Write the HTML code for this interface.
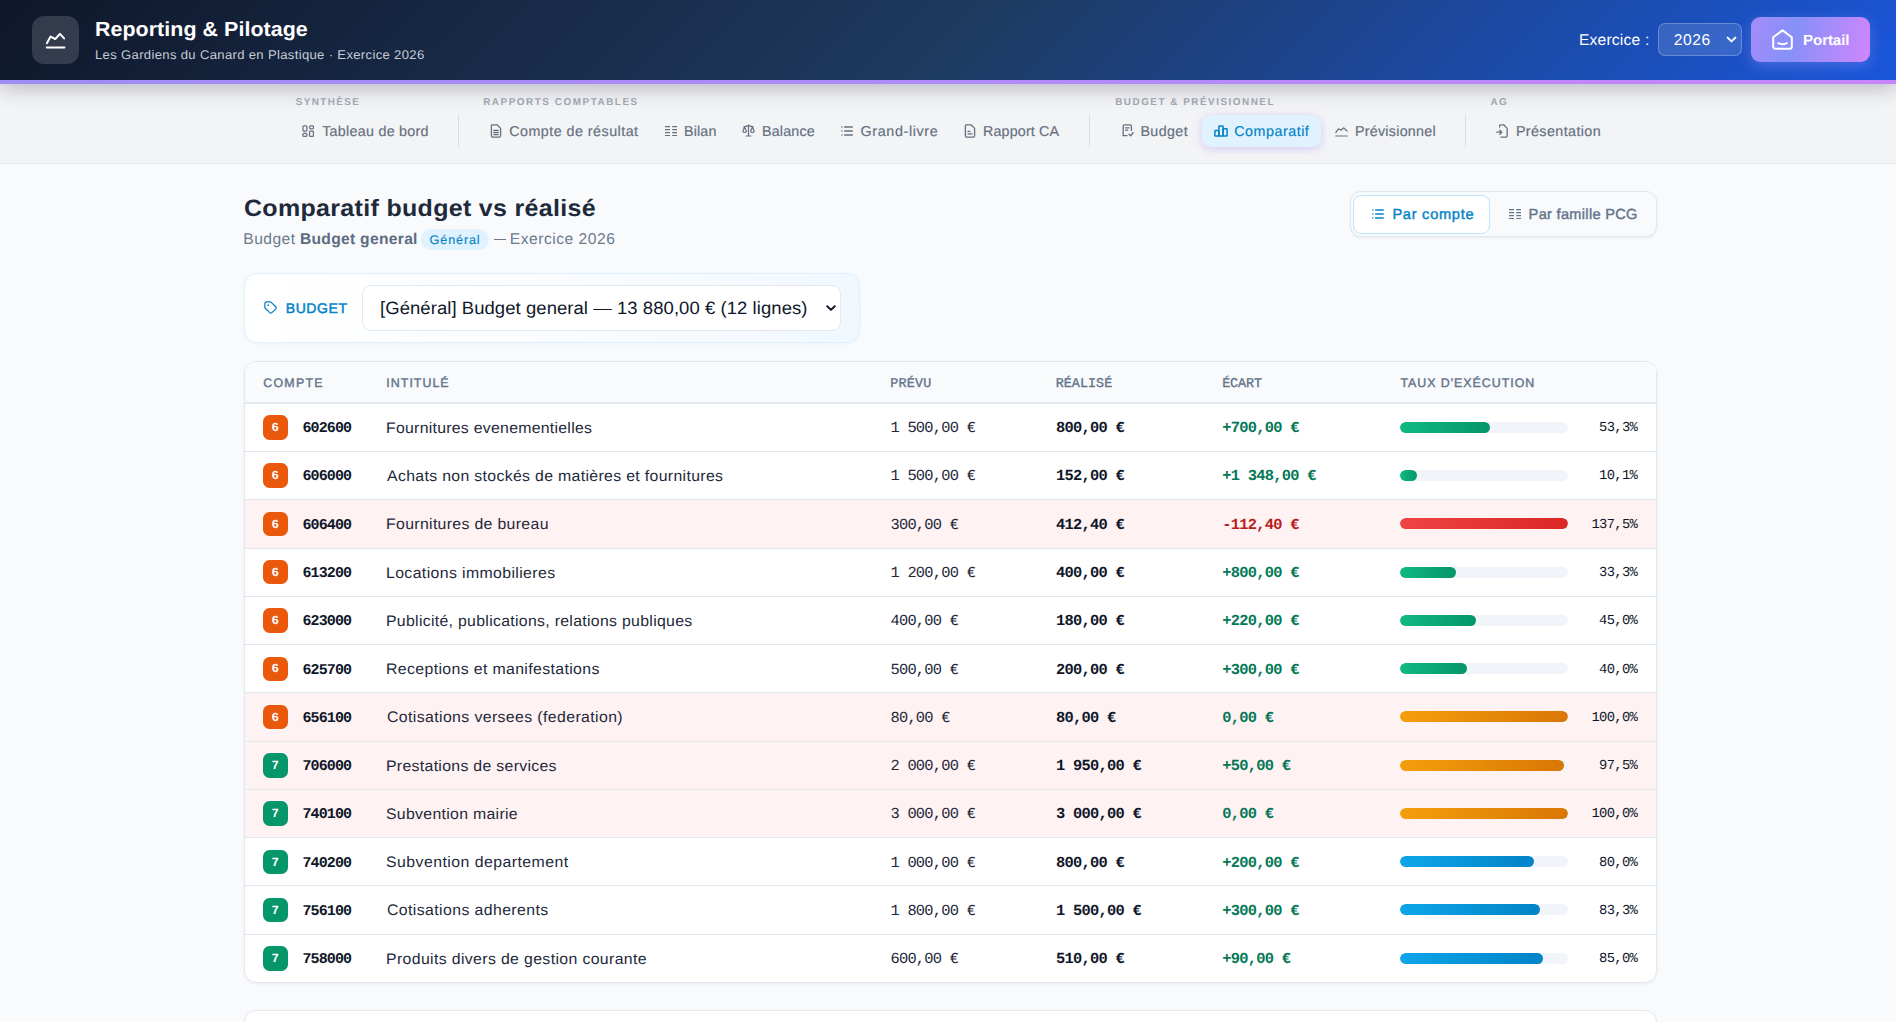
<!DOCTYPE html>
<html lang="fr">
<head>
<meta charset="utf-8">
<title>Reporting &amp; Pilotage</title>
<style>
*{box-sizing:border-box;margin:0;padding:0}
html,body{width:1896px;height:1022px;overflow:hidden}
body{font-family:"Liberation Sans",sans-serif;background:#f8fafc;color:#1e293b;position:relative;text-rendering:geometricPrecision}
.tx{position:absolute;white-space:nowrap}
i{font-style:normal}
svg{position:absolute;display:block}
/* header */
.hdr{position:absolute;left:0;top:0;width:1896px;height:84px;background:linear-gradient(90deg,#9f8cf6 0%,#b08af9 50%,#c686fb 100%);box-shadow:0 4px 20px rgba(15,23,42,.28);z-index:5}
.hdr .bg{position:absolute;left:0;top:0;width:1896px;height:80px;background:linear-gradient(135deg,#0f172a 0%,#1e3a5f 50%,#1a56db 100%)}
.logo{position:absolute;left:32px;top:16px;width:47px;height:48px;border-radius:12px;background:rgba(255,255,255,.15)}
.ttl{font-size:20.4px;font-weight:700;color:#fff;line-height:26px;transform:scaleX(1.05);transform-origin:0 0}
.sub{font-size:12.6px;color:#c5ccd8;line-height:18px;transform:scaleX(1.04);transform-origin:0 0}
.exl{font-size:15.6px;color:#fff;line-height:22px}
.exs{position:absolute;left:1658px;top:23px;width:84px;height:33px;border-radius:7px;background:rgba(255,255,255,.13);border:1px solid rgba(255,255,255,.24)}
.portail{position:absolute;left:1751px;top:17px;width:119px;height:45px;border-radius:9px;background:linear-gradient(105deg,#a58cf9 0%,#8690f8 36%,#ae8bfb 70%,#d085fc 100%);box-shadow:0 4px 14px rgba(129,140,248,.45)}
.pt{font-size:14.6px;font-weight:700;color:#fff;line-height:22px;transform:scaleX(1.04);transform-origin:0 0}
/* nav */
.nav{position:absolute;left:0;top:84px;width:1896px;height:80px;background:#f3f4f6;border-bottom:1px solid #e5e7eb}
.gl{font-size:9.9px;font-weight:700;color:#a3a9b4;line-height:12px}
.ni{font-size:14.3px;color:#66707f;line-height:20px;-webkit-text-stroke:.18px currentColor}
.nico{position:absolute;color:#66707f}
.act{position:absolute;left:1202px;top:115px;width:119px;height:32px;background:#e0f2fe;border-radius:9px;box-shadow:0 2px 10px rgba(139,92,246,.28)}
.sep{position:absolute;top:115px;width:1px;height:32px;background:#d8dbe0}
/* page head */
.h1{font-size:23.6px;font-weight:700;color:#1e293b;line-height:32px;transform:scaleX(1.06);transform-origin:0 0}
.ps{font-size:15.6px;color:#6c7a8e;line-height:24px}
.pill{position:absolute;left:421px;top:229px;width:68px;height:21px;border-radius:11px;background:#e0f2fe}
.pl{font-size:12.6px;color:#0284c7;line-height:16px;-webkit-text-stroke:.15px currentColor}
.tog{position:absolute;left:1350px;top:191px;width:307px;height:46px;border:1px solid #e2e8f0;border-radius:11px;background:#f8fafc;box-shadow:0 1px 3px rgba(15,23,42,.07)}
.toga{position:absolute;left:1353px;top:194.6px;width:137px;height:39.4px;background:#fff;border:1px solid #bae6fd;border-radius:8px}
.tg{font-size:14.6px;font-weight:400;line-height:20px;-webkit-text-stroke:.42px currentColor}
/* budget select */
.bsel{position:absolute;left:244px;top:273px;width:616px;height:70px;border:1px solid #dff1fd;border-radius:13px;background:linear-gradient(100deg,#ffffff 0%,#fbfdff 45%,#f0f8ff 100%);box-shadow:0 1px 3px rgba(14,165,233,.06)}
.lab{font-size:14px;font-weight:400;color:#0284c7;line-height:18px;-webkit-text-stroke:.5px currentColor}
.sel{position:absolute;left:362px;top:285px;width:479px;height:46px;border:1px solid #e2e8f0;border-radius:9px;background:#fff}
.selt{font-size:17.8px;color:#0f172a;line-height:24px;transform:scaleX(1.04);transform-origin:0 0}
/* table */
.tbl{position:absolute;left:244px;top:361px;width:1413px;height:622px;border:1px solid #e2e8f0;border-radius:12px;background:#fff;overflow:hidden}
.tblsh{position:absolute;left:244px;top:361px;width:1413px;height:622px;border-radius:12px;box-shadow:0 1px 3px rgba(15,23,42,.06)}
.th{position:absolute;left:0;top:0;width:100%;height:42px;background:#f8fafc;border-bottom:2px solid #e2e8f0}
.hs{font-size:12.4px;font-weight:400;color:#64748b;line-height:14px;-webkit-text-stroke:.4px currentColor}
.hm{font-family:"Liberation Mono",monospace;font-size:13.4px;font-weight:400;color:#64748b;line-height:14px;-webkit-text-stroke:.35px #64748b}
.r{position:absolute;left:1px;width:1411px;border-bottom:1px solid #e2e8f0}
.r.w{background:#fef2f2}
.bd{position:absolute;width:25px;height:25px;left:263px;border-radius:6.5px}
.o{background:#ea580c}.g{background:#059669}
.bdt{font-family:"Liberation Mono",monospace;font-weight:700;font-size:12.4px;line-height:14px;color:#fff}
.ac{font-family:"Liberation Mono",monospace;font-weight:700;font-size:15px;line-height:16px;color:#0f172a}
.lb{font-size:15.3px;line-height:20px;color:#1e293b;transform:scaleX(1.035);transform-origin:0 0}
.pv,.re,.ec{font-family:"Liberation Mono",monospace;font-size:15.4px;line-height:16px}
.pv{color:#1e293b}
.re{color:#0f172a;font-weight:700}
.ec{font-weight:700;color:#047857}
.ec.n{color:#b91c1c}
.bar{position:absolute;left:1400px;width:168px;height:11px;border-radius:6px;background:#f1f5f9;overflow:hidden}
.bar i{position:absolute;left:0;top:0;height:100%;border-radius:6px}
.fg{background:linear-gradient(90deg,#10b981,#059669)}
.fr{background:linear-gradient(90deg,#ef4444,#dc2626)}
.fo{background:linear-gradient(90deg,#f59e0b,#d97706)}
.fb{background:linear-gradient(90deg,#0ea5e9,#0284c7)}
.pc{font-family:"Liberation Mono",monospace;font-size:13.8px;line-height:16px;color:#0f172a}
.card2{position:absolute;left:244px;top:1010px;width:1413px;height:40px;border:1px solid #e2e8f0;border-radius:12px;background:#fff}
</style>
</head>
<body>
<div class="hdr"><div class="bg"></div><div class="logo"></div>
<svg style="left:45px;top:32px" width="22" height="18" viewBox="0 0 22 18" fill="none" stroke="#fff" stroke-width="2" stroke-linecap="round" stroke-linejoin="round"><path d="M1.9 11.2 L5.6 4.6 L10.3 7 L14.9 1.8 L19.1 6.4"/><path d="M1.7 15.6 H19.5"/></svg>
<div id="ttl" class="tx ttl" style="left:94.60px;top:17.1px;letter-spacing:0.050px;">Reporting &amp; Pilotage</div>
<div id="sub" class="tx sub" style="left:94.80px;top:46.4px;letter-spacing:0.310px;">Les Gardiens du Canard en Plastique · Exercice 2026</div>
<div id="exl" class="tx exl" style="left:1578.90px;top:30px;letter-spacing:0.223px;">Exercice :</div>
<div class="exs"></div>
<div id="yr" class="tx exl" style="left:1673.73px;top:30px;letter-spacing:0.595px;">2026</div>
<svg style="left:1725px;top:33px" width="13" height="13" viewBox="0 0 13 13" fill="none" stroke="#fff" stroke-width="2" stroke-linecap="round" stroke-linejoin="round"><path d="M2.6 4.6 L6.5 8.4 L10.4 4.6"/></svg>
<div class="portail"></div>
<svg style="left:1771px;top:28px" width="23" height="23" viewBox="0 0 23 23" fill="none" stroke="#fff" stroke-width="2" stroke-linecap="round" stroke-linejoin="round"><path d="M2.2 9.2 L11.5 2.4 L20.8 9.2 V18.6 a2.2 2.2 0 0 1 -2.2 2.2 H4.4 a2.2 2.2 0 0 1 -2.2 -2.2 Z"/><path d="M7.2 15.1 Q11.5 17.3 15.8 15.1"/></svg>
<div id="pt" class="tx pt" style="left:1803.10px;top:30.3px;letter-spacing:-0.120px;">Portail</div>
</div>
<div class="nav"></div>
<div id="g0" class="tx gl" style="left:295.67px;top:96.8px;letter-spacing:1.425px;">SYNTHÈSE</div>
<div id="g1" class="tx gl" style="left:483.18px;top:96.8px;letter-spacing:1.556px;">RAPPORTS COMPTABLES</div>
<div id="g2" class="tx gl" style="left:1115.18px;top:96.8px;letter-spacing:1.524px;">BUDGET &amp; PRÉVISIONNEL</div>
<div id="g3" class="tx gl" style="left:1490.50px;top:96.8px;letter-spacing:1.300px;">AG</div>
<div class="sep" style="left:458px"></div>
<div class="sep" style="left:1089px"></div>
<div class="sep" style="left:1465px"></div>
<div class="act"></div>
<i class="nico" style="color:#66707f"><svg style="left:301.6px;top:124.5px" width="12.4" height="12.2" viewBox="0 0 13 13" fill="none" stroke="currentColor" stroke-width="1.3" stroke-linejoin="round"><rect x=".9" y=".9" width="4.2" height="5.6" rx="1"/><rect x="7.9" y=".9" width="4.2" height="3.2" rx="1.2"/><rect x=".9" y="9" width="4.2" height="3.1" rx="1"/><rect x="7.9" y="6.5" width="4.2" height="5.6" rx="1"/></svg></i>
<div id="n0" class="tx ni" style="left:322.18px;top:122px;letter-spacing:0.275px;color:#66707f">Tableau de bord</div>
<i class="nico" style="color:#66707f"><svg style="left:489.8px;top:124px" width="12" height="14" viewBox="0 0 12 14" fill="none" stroke="currentColor" stroke-width="1.3" stroke-linecap="round" stroke-linejoin="round"><path d="M2.2 .8 H7 L10.6 4.4 V11.8 a1.4 1.4 0 0 1 -1.4 1.4 H2.8 a1.4 1.4 0 0 1 -1.4 -1.4 V1.6 a.8 .8 0 0 1 .8 -.8 Z"/><path d="M3.8 6.4 H8.2 M3.8 8.5 H8.2 M3.8 10.6 H8.2"/></svg></i>
<div id="n1" class="tx ni" style="left:509.16px;top:122px;letter-spacing:0.479px;color:#66707f">Compte de résultat</div>
<i class="nico" style="color:#66707f"><svg style="left:664.9px;top:125.7px" width="12.2" height="10.2" viewBox="0 0 12.2 10.2" fill="none" stroke="currentColor" stroke-width="1.15"><path d="M0 .7 H5 M7.2 .7 H12.2 M0 3.63 H5 M7.2 3.63 H12.2 M0 6.57 H5 M7.2 6.57 H12.2 M0 9.5 H5 M7.2 9.5 H12.2"/></svg></i>
<div id="n2" class="tx ni" style="left:683.95px;top:122px;letter-spacing:0.178px;color:#66707f">Bilan</div>
<i class="nico" style="color:#66707f"><svg style="left:742.2px;top:124px" width="13" height="13" viewBox="0 0 13 13" fill="none" stroke="currentColor" stroke-width="1.2" stroke-linecap="round" stroke-linejoin="round"><path d="M6.5 .8 V11.6 M4.2 12 H8.8 M1.8 2.8 L6.5 1.6 L11.2 2.8"/><path d="M2.6 3 L.8 7.2 a1.9 1.9 0 0 0 3.6 0 Z M10.4 3 L8.6 7.2 a1.9 1.9 0 0 0 3.6 0 Z"/></svg></i>
<div id="n3" class="tx ni" style="left:762.03px;top:122px;letter-spacing:0.162px;color:#66707f">Balance</div>
<i class="nico" style="color:#66707f"><svg style="left:841px;top:126px" width="12" height="10" viewBox="0 0 12 10" fill="none" stroke="currentColor" stroke-width="1.3" stroke-linecap="round"><path d="M3.6 1 H11.3 M3.6 5 H11.3 M3.6 9 H11.3 M.8 1 H1 M.8 5 H1 M.8 9 H1"/></svg></i>
<div id="n4" class="tx ni" style="left:860.53px;top:122px;letter-spacing:0.648px;color:#66707f">Grand-livre</div>
<i class="nico" style="color:#66707f"><svg style="left:963.6px;top:124px" width="12" height="14" viewBox="0 0 12 14" fill="none" stroke="currentColor" stroke-width="1.3" stroke-linecap="round" stroke-linejoin="round"><path d="M2.2 .8 H7 L10.6 4.4 V11.8 a1.4 1.4 0 0 1 -1.4 1.4 H2.8 a1.4 1.4 0 0 1 -1.4 -1.4 V1.6 a.8 .8 0 0 1 .8 -.8 Z"/><path d="M4 7.4 H6 M4 9.8 H8"/></svg></i>
<div id="n5" class="tx ni" style="left:982.92px;top:122px;letter-spacing:0.170px;color:#66707f">Rapport CA</div>
<i class="nico" style="color:#66707f"><svg style="left:1122px;top:124.3px" width="12" height="13" viewBox="0 0 12 13" fill="none" stroke="currentColor" stroke-width="1.3" stroke-linecap="round" stroke-linejoin="round"><path d="M1.2 11.6 V2 a1.2 1.2 0 0 1 1.2 -1.2 H8.2 a1.2 1.2 0 0 1 1.2 1.2 V6.6"/><path d="M1.2 11.6 H5 M3.6 3.8 H7 M3.6 6.2 H5.6"/><path d="M7 10.2 L8.6 11.8 L11.2 8.8"/></svg></i>
<div id="n6" class="tx ni" style="left:1140.46px;top:122px;letter-spacing:0.380px;color:#66707f">Budget</div>
<i class="nico" style="color:#0284c7"><svg style="left:1214px;top:125px" width="14" height="12" viewBox="0 0 14 12" fill="none" stroke="currentColor" stroke-width="1.5" stroke-linejoin="round"><rect x=".9" y="5.6" width="4" height="5.5" rx=".6"/><rect x="4.9" y=".9" width="4.2" height="10.2" rx=".6"/><rect x="9.1" y="3.8" width="4" height="7.3" rx=".6"/></svg></i>
<div id="n7" class="tx ni" style="left:1234.28px;top:122px;letter-spacing:0.512px;color:#0284c7">Comparatif</div>
<i class="nico" style="color:#66707f"><svg style="left:1335.4px;top:126.6px" width="13" height="10" viewBox="0 0 13 10" fill="none" stroke="currentColor" stroke-width="1.2" stroke-linecap="round" stroke-linejoin="round"><path d="M.8 5.6 L3.4 1.8 L6 3.2 L8.8 .8 L12 4 M.8 9 H12.2"/></svg></i>
<div id="n8" class="tx ni" style="left:1354.93px;top:122px;letter-spacing:0.260px;color:#66707f">Prévisionnel</div>
<i class="nico" style="color:#66707f"><svg style="left:1496.2px;top:124px" width="12" height="14" viewBox="0 0 12 14" fill="none" stroke="currentColor" stroke-width="1.3" stroke-linecap="round" stroke-linejoin="round"><path d="M3.6 3 V2 a1.2 1.2 0 0 1 1.2 -1.2 H7.6 L11.2 4.4 V11.8 a1.4 1.4 0 0 1 -1.4 1.4 H5"/><path d="M.8 8.2 H5.6 M3.8 6.2 L5.8 8.2 L3.8 10.2"/></svg></i>
<div id="n9" class="tx ni" style="left:1515.90px;top:122px;letter-spacing:0.410px;color:#66707f">Présentation</div>
<div id="h1" class="tx h1" style="left:243.56px;top:192.7px;letter-spacing:0.294px;">Comparatif budget vs réalisé</div>
<div id="ps1" class="tx ps" style="left:243.32px;top:228.1px;letter-spacing:0.457px;">Budget</div>
<div id="ps2" class="tx ps" style="left:299.91px;top:228.1px;letter-spacing:0.311px;font-weight:700;color:#5d6c82">Budget general</div>
<div class="pill"></div>
<div id="pl" class="tx pl" style="left:429.60px;top:232px;letter-spacing:0.879px;">Général</div>
<div style="position:absolute;left:494.4px;top:239.1px;width:11.4px;height:1.3px;background:#6c7a8e"></div>
<div id="ps3" class="tx ps" style="left:509.83px;top:228.1px;letter-spacing:0.513px;">Exercice 2026</div>
<div class="tog"></div><div class="toga"></div>
<i class="nico" style="color:#0284c7"><svg style="left:1372px;top:209px" width="12" height="10" viewBox="0 0 12 10" fill="none" stroke="currentColor" stroke-width="1.3" stroke-linecap="round"><path d="M3.6 1 H11.3 M3.6 5 H11.3 M3.6 9 H11.3 M.8 1 H1 M.8 5 H1 M.8 9 H1"/></svg></i>
<div id="tg1" class="tx tg" style="left:1392.41px;top:205.1px;letter-spacing:0.732px;color:#0284c7">Par compte</div>
<i class="nico" style="color:#64748b"><svg style="left:1508.8px;top:208.6px" width="12.2" height="10.2" viewBox="0 0 12.2 10.2" fill="none" stroke="currentColor" stroke-width="1.15"><path d="M0 .7 H5 M7.2 .7 H12.2 M0 3.63 H5 M7.2 3.63 H12.2 M0 6.57 H5 M7.2 6.57 H12.2 M0 9.5 H5 M7.2 9.5 H12.2"/></svg></i>
<div id="tg2" class="tx tg" style="left:1528.60px;top:205.1px;letter-spacing:0.303px;color:#64748b">Par famille PCG</div>
<div class="bsel"></div>
<svg style="left:264.2px;top:300.8px" width="13.2" height="13.2" viewBox="0 0 14 14" fill="none" stroke="#0284c7" stroke-width="1.3" stroke-linejoin="round" stroke-linecap="round"><path d="M3.1 .9 H7.2 L12.4 6.1 a1.6 1.6 0 0 1 0 2.26 L8.36 12.4 a1.6 1.6 0 0 1 -2.26 0 L.9 7.2 V3.1 a2.2 2.2 0 0 1 2.2 -2.2 Z"/><circle cx="4.5" cy="4.4" r=".95" fill="#0284c7" stroke="none"/></svg>
<div id="lab" class="tx lab" style="left:285.70px;top:299px;letter-spacing:0.616px;">BUDGET</div>
<div class="sel"></div>
<div id="selt" class="tx selt" style="left:380.01px;top:296.3px;letter-spacing:0.056px;">[Général] Budget general — 13 880,00 € (12 lignes)</div>
<svg style="left:824.6px;top:302px" width="12" height="12" viewBox="0 0 12 12" fill="none" stroke="#0f172a" stroke-width="2" stroke-linecap="round" stroke-linejoin="round"><path d="M2.2 4.2 L6 7.9 L9.8 4.2"/></svg>
<div class="tblsh"></div><div class="tbl"><div class="th"></div>
<div class="r" style="left:0;width:100%;top:42px;height:48px"></div>
<div class="r" style="left:0;width:100%;top:90px;height:48px"></div>
<div class="r w" style="left:0;width:100%;top:138px;height:49px"></div>
<div class="r" style="left:0;width:100%;top:187px;height:48px"></div>
<div class="r" style="left:0;width:100%;top:235px;height:48px"></div>
<div class="r" style="left:0;width:100%;top:283px;height:48px"></div>
<div class="r w" style="left:0;width:100%;top:331px;height:49px"></div>
<div class="r w" style="left:0;width:100%;top:380px;height:48px"></div>
<div class="r w" style="left:0;width:100%;top:428px;height:48px"></div>
<div class="r" style="left:0;width:100%;top:476px;height:48px"></div>
<div class="r" style="left:0;width:100%;top:524px;height:49px"></div>
<div class="r" style="left:0;width:100%;top:573px;height:48px;border-bottom:0"></div>
</div>
<div id="h0" class="tx hs" style="left:263.22px;top:376px;letter-spacing:1.255px;">COMPTE</div>
<div id="h1b" class="tx hs" style="left:386.33px;top:376px;letter-spacing:1.032px;">INTITULÉ</div>
<div id="h2" class="tx hm" style="left:890.35px;top:378px;letter-spacing:0.172px;">PRÉVU</div>
<div id="h3" class="tx hm" style="left:1055.74px;top:378px;letter-spacing:0.031px;">RÉALISÉ</div>
<div id="h4" class="tx hm" style="left:1222.14px;top:378px;letter-spacing:-0.078px;">ÉCART</div>
<div id="h5" class="tx hs" style="left:1400.42px;top:376px;letter-spacing:0.976px;">TAUX D'EXÉCUTION</div>
<div class="bd o" style="top:415px;height:25px"></div>
<div id="b0" class="tx bdt" style="left:271.60px;top:421.09px;letter-spacing:-0.041px">6</div>
<div id="a0" class="tx ac" style="left:302.50px;top:421.19px;letter-spacing:-0.902px">602600</div>
<div id="l0" class="tx lb" style="left:385.55px;top:419.2px;letter-spacing:0.261px;">Fournitures evenementielles</div>
<div id="p0" class="tx pv" style="left:890.40px;top:420.19px;letter-spacing:-0.742px">1 500,00 €</div>
<div id="r0" class="tx re" style="left:1056.00px;top:420.19px;letter-spacing:-0.742px">800,00 €</div>
<div id="e0" class="tx ec" style="left:1222.30px;top:420.19px;letter-spacing:-0.742px">+700,00 €</div>
<div class="bar" style="top:422px"><i class="fg" style="width:53.3%"></i></div>
<div id="c0" class="tx pc" style="left:1599.10px;top:421.19px;letter-spacing:-0.661px">53,3%</div>
<div class="bd o" style="top:463px;height:25px"></div>
<div id="b1" class="tx bdt" style="left:271.60px;top:469.35999999999996px;letter-spacing:-0.041px">6</div>
<div id="a1" class="tx ac" style="left:302.50px;top:469.46px;letter-spacing:-0.902px">606000</div>
<div id="l1" class="tx lb" style="left:386.62px;top:467.2px;letter-spacing:0.325px;">Achats non stockés de matières et fournitures</div>
<div id="p1" class="tx pv" style="left:890.40px;top:468.46px;letter-spacing:-0.742px">1 500,00 €</div>
<div id="r1" class="tx re" style="left:1056.00px;top:468.46px;letter-spacing:-0.742px">152,00 €</div>
<div id="e1" class="tx ec" style="left:1222.30px;top:468.46px;letter-spacing:-0.742px">+1 348,00 €</div>
<div class="bar" style="top:470px"><i class="fg" style="width:10.1%"></i></div>
<div id="c1" class="tx pc" style="left:1599.10px;top:469.46px;letter-spacing:-0.661px">10,1%</div>
<div class="bd o" style="top:512px;height:24px"></div>
<div id="b2" class="tx bdt" style="left:271.60px;top:517.63px;letter-spacing:-0.041px">6</div>
<div id="a2" class="tx ac" style="left:302.50px;top:517.73px;letter-spacing:-0.902px">606400</div>
<div id="l2" class="tx lb" style="left:385.63px;top:515.2px;letter-spacing:0.322px;">Fournitures de bureau</div>
<div id="p2" class="tx pv" style="left:890.40px;top:516.73px;letter-spacing:-0.742px">300,00 €</div>
<div id="r2" class="tx re" style="left:1056.00px;top:516.73px;letter-spacing:-0.742px">412,40 €</div>
<div id="e2" class="tx ec n" style="left:1222.30px;top:516.73px;letter-spacing:-0.742px">-112,40 €</div>
<div class="bar" style="top:518px"><i class="fr" style="width:100%"></i></div>
<div id="c2" class="tx pc" style="left:1591.48px;top:517.73px;letter-spacing:-0.661px">137,5%</div>
<div class="bd o" style="top:560px;height:24px"></div>
<div id="b3" class="tx bdt" style="left:271.60px;top:565.9px;letter-spacing:-0.041px">6</div>
<div id="a3" class="tx ac" style="left:302.50px;top:566.0px;letter-spacing:-0.902px">613200</div>
<div id="l3" class="tx lb" style="left:385.53px;top:564.2px;letter-spacing:0.369px;">Locations immobilieres</div>
<div id="p3" class="tx pv" style="left:890.40px;top:565.0px;letter-spacing:-0.742px">1 200,00 €</div>
<div id="r3" class="tx re" style="left:1056.00px;top:565.0px;letter-spacing:-0.742px">400,00 €</div>
<div id="e3" class="tx ec" style="left:1222.30px;top:565.0px;letter-spacing:-0.742px">+800,00 €</div>
<div class="bar" style="top:567px"><i class="fg" style="width:33.3%"></i></div>
<div id="c3" class="tx pc" style="left:1599.10px;top:566.0px;letter-spacing:-0.661px">33,3%</div>
<div class="bd o" style="top:608px;height:25px"></div>
<div id="b4" class="tx bdt" style="left:271.60px;top:614.17px;letter-spacing:-0.041px">6</div>
<div id="a4" class="tx ac" style="left:302.50px;top:614.27px;letter-spacing:-0.902px">623000</div>
<div id="l4" class="tx lb" style="left:385.53px;top:612.2px;letter-spacing:0.295px;">Publicité, publications, relations publiques</div>
<div id="p4" class="tx pv" style="left:890.40px;top:613.27px;letter-spacing:-0.742px">400,00 €</div>
<div id="r4" class="tx re" style="left:1056.00px;top:613.27px;letter-spacing:-0.742px">180,00 €</div>
<div id="e4" class="tx ec" style="left:1222.30px;top:613.27px;letter-spacing:-0.742px">+220,00 €</div>
<div class="bar" style="top:615px"><i class="fg" style="width:45.0%"></i></div>
<div id="c4" class="tx pc" style="left:1599.10px;top:614.27px;letter-spacing:-0.661px">45,0%</div>
<div class="bd o" style="top:657px;height:24px"></div>
<div id="b5" class="tx bdt" style="left:271.60px;top:662.4399999999999px;letter-spacing:-0.041px">6</div>
<div id="a5" class="tx ac" style="left:302.50px;top:662.54px;letter-spacing:-0.902px">625700</div>
<div id="l5" class="tx lb" style="left:385.53px;top:660.2px;letter-spacing:0.361px;">Receptions et manifestations</div>
<div id="p5" class="tx pv" style="left:890.40px;top:661.54px;letter-spacing:-0.742px">500,00 €</div>
<div id="r5" class="tx re" style="left:1056.00px;top:661.54px;letter-spacing:-0.742px">200,00 €</div>
<div id="e5" class="tx ec" style="left:1222.30px;top:661.54px;letter-spacing:-0.742px">+300,00 €</div>
<div class="bar" style="top:663px"><i class="fg" style="width:40.0%"></i></div>
<div id="c5" class="tx pc" style="left:1599.10px;top:662.54px;letter-spacing:-0.661px">40,0%</div>
<div class="bd o" style="top:705px;height:24px"></div>
<div id="b6" class="tx bdt" style="left:271.60px;top:710.7099999999999px;letter-spacing:-0.041px">6</div>
<div id="a6" class="tx ac" style="left:302.50px;top:710.81px;letter-spacing:-0.902px">656100</div>
<div id="l6" class="tx lb" style="left:387.14px;top:708.2px;letter-spacing:0.377px;">Cotisations versees (federation)</div>
<div id="p6" class="tx pv" style="left:890.40px;top:709.81px;letter-spacing:-0.742px">80,00 €</div>
<div id="r6" class="tx re" style="left:1056.00px;top:709.81px;letter-spacing:-0.742px">80,00 €</div>
<div id="e6" class="tx ec" style="left:1222.30px;top:709.81px;letter-spacing:-0.742px">0,00 €</div>
<div class="bar" style="top:711px"><i class="fo" style="width:100%"></i></div>
<div id="c6" class="tx pc" style="left:1591.48px;top:710.81px;letter-spacing:-0.661px">100,0%</div>
<div class="bd g" style="top:753px;height:25px"></div>
<div id="b7" class="tx bdt" style="left:271.60px;top:758.98px;letter-spacing:-0.041px">7</div>
<div id="a7" class="tx ac" style="left:302.50px;top:759.08px;letter-spacing:-0.902px">706000</div>
<div id="l7" class="tx lb" style="left:385.63px;top:757.2px;letter-spacing:0.301px;">Prestations de services</div>
<div id="p7" class="tx pv" style="left:890.40px;top:758.08px;letter-spacing:-0.742px">2 000,00 €</div>
<div id="r7" class="tx re" style="left:1056.00px;top:758.08px;letter-spacing:-0.742px">1 950,00 €</div>
<div id="e7" class="tx ec" style="left:1222.30px;top:758.08px;letter-spacing:-0.742px">+50,00 €</div>
<div class="bar" style="top:760px"><i class="fo" style="width:97.5%"></i></div>
<div id="c7" class="tx pc" style="left:1599.10px;top:759.08px;letter-spacing:-0.661px">97,5%</div>
<div class="bd g" style="top:801px;height:25px"></div>
<div id="b8" class="tx bdt" style="left:271.60px;top:807.25px;letter-spacing:-0.041px">7</div>
<div id="a8" class="tx ac" style="left:302.50px;top:807.35px;letter-spacing:-0.902px">740100</div>
<div id="l8" class="tx lb" style="left:385.77px;top:805.2px;letter-spacing:0.294px;">Subvention mairie</div>
<div id="p8" class="tx pv" style="left:890.40px;top:806.35px;letter-spacing:-0.742px">3 000,00 €</div>
<div id="r8" class="tx re" style="left:1056.00px;top:806.35px;letter-spacing:-0.742px">3 000,00 €</div>
<div id="e8" class="tx ec" style="left:1222.30px;top:806.35px;letter-spacing:-0.742px">0,00 €</div>
<div class="bar" style="top:808px"><i class="fo" style="width:100%"></i></div>
<div id="c8" class="tx pc" style="left:1591.48px;top:807.35px;letter-spacing:-0.661px">100,0%</div>
<div class="bd g" style="top:850px;height:24px"></div>
<div id="b9" class="tx bdt" style="left:271.60px;top:855.52px;letter-spacing:-0.041px">7</div>
<div id="a9" class="tx ac" style="left:302.50px;top:855.62px;letter-spacing:-0.902px">740200</div>
<div id="l9" class="tx lb" style="left:386.15px;top:853.2px;letter-spacing:0.441px;">Subvention departement</div>
<div id="p9" class="tx pv" style="left:890.40px;top:854.62px;letter-spacing:-0.742px">1 000,00 €</div>
<div id="r9" class="tx re" style="left:1056.00px;top:854.62px;letter-spacing:-0.742px">800,00 €</div>
<div id="e9" class="tx ec" style="left:1222.30px;top:854.62px;letter-spacing:-0.742px">+200,00 €</div>
<div class="bar" style="top:856px"><i class="fb" style="width:80.0%"></i></div>
<div id="c9" class="tx pc" style="left:1599.10px;top:855.62px;letter-spacing:-0.661px">80,0%</div>
<div class="bd g" style="top:898px;height:24px"></div>
<div id="b10" class="tx bdt" style="left:271.60px;top:903.79px;letter-spacing:-0.041px">7</div>
<div id="a10" class="tx ac" style="left:302.50px;top:903.89px;letter-spacing:-0.902px">756100</div>
<div id="l10" class="tx lb" style="left:386.77px;top:901.2px;letter-spacing:0.388px;">Cotisations adherents</div>
<div id="p10" class="tx pv" style="left:890.40px;top:902.89px;letter-spacing:-0.742px">1 800,00 €</div>
<div id="r10" class="tx re" style="left:1056.00px;top:902.89px;letter-spacing:-0.742px">1 500,00 €</div>
<div id="e10" class="tx ec" style="left:1222.30px;top:902.89px;letter-spacing:-0.742px">+300,00 €</div>
<div class="bar" style="top:904px"><i class="fb" style="width:83.3%"></i></div>
<div id="c10" class="tx pc" style="left:1599.10px;top:903.89px;letter-spacing:-0.661px">83,3%</div>
<div class="bd g" style="top:946px;height:25px"></div>
<div id="b11" class="tx bdt" style="left:271.60px;top:952.06px;letter-spacing:-0.041px">7</div>
<div id="a11" class="tx ac" style="left:302.50px;top:952.16px;letter-spacing:-0.902px">758000</div>
<div id="l11" class="tx lb" style="left:385.53px;top:950.2px;letter-spacing:0.351px;">Produits divers de gestion courante</div>
<div id="p11" class="tx pv" style="left:890.40px;top:951.16px;letter-spacing:-0.742px">600,00 €</div>
<div id="r11" class="tx re" style="left:1056.00px;top:951.16px;letter-spacing:-0.742px">510,00 €</div>
<div id="e11" class="tx ec" style="left:1222.30px;top:951.16px;letter-spacing:-0.742px">+90,00 €</div>
<div class="bar" style="top:953px"><i class="fb" style="width:85.0%"></i></div>
<div id="c11" class="tx pc" style="left:1599.10px;top:952.16px;letter-spacing:-0.661px">85,0%</div>
<div class="card2"></div>
</body>
</html>
